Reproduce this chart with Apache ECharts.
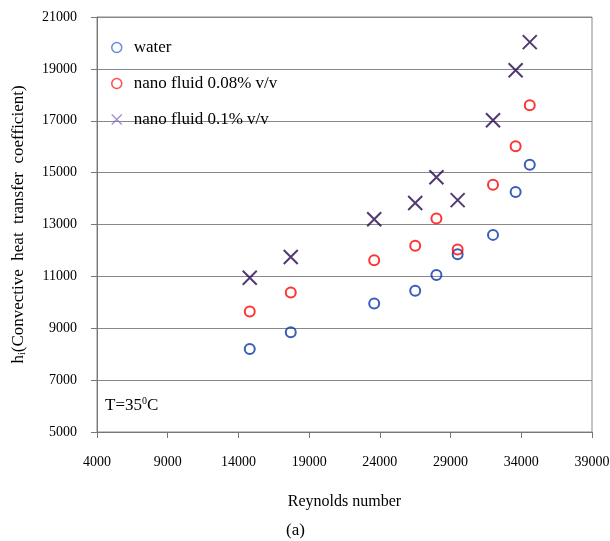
<!DOCTYPE html>
<html>
<head>
<meta charset="utf-8">
<script src="https://cdn.jsdelivr.net/npm/echarts@6/dist/echarts.min.js"></script>
<style>
  html, body { margin: 0; padding: 0; background: #fff; }
  #chart { width: 610px; height: 541px; }
</style>
</head>
<body>
<div id="chart"></div>
<script>
// data
const reynolds = [14800, 17700, 23600, 26500, 28000, 29500, 32000, 33600, 34600];
const water    = [8200, 8850, 9950, 10450, 11050, 11850, 12600, 14250, 15300];
const nano008  = [9650, 10380, 11620, 12180, 13230, 12040, 14530, 16020, 17600];
const nano01   = [10950, 11750, 13200, 13830, 14820, 13940, 17020, 18950, 20030];

const seriesNames = ["water", "nano fluid 0.08% v/v", "nano fluid 0.1% v/v"];

const FONT = "Liberation Serif";
const CROSS = "path://M0,0L10,10M10,0L0,10";

const pairs = (ys) => reynolds.map((x, i) => [x, ys[i]]);
const plain = (v) => String(v); // no thousands separator

const chart = echarts.init(document.getElementById("chart"), null, { renderer: "canvas" });

chart.setOption({
  animation: false,
  textStyle: { fontFamily: FONT, color: "#000" },
  grid: {
    left: 97, right: 18, top: 17, bottom: 109,
    outerBoundsMode: "none",
    containLabel: false,
    show: true, borderColor: "#888", borderWidth: 1,
  },
  legend: {
    orient: "vertical",
    left: 106, top: 34,
    itemWidth: 24, itemHeight: 10,
    itemGap: 19,
    textStyle: { fontFamily: FONT, fontSize: 17, color: "#000" },
    data: [
      { name: seriesNames[0], itemStyle: { color: "transparent", borderColor: "#3f6fd6", borderWidth: 1.5 } },
      { name: seriesNames[1], itemStyle: { color: "transparent", borderColor: "#ff2020", borderWidth: 1.5 } },
      { name: seriesNames[2], itemStyle: { color: "transparent", borderColor: "#8a6cc8", borderWidth: 1.2 } },
    ],
  },
  xAxis: {
    type: "value",
    min: 4000, max: 39000, interval: 5000,
    name: "Reynolds number",
    nameLocation: "middle",
    nameGap: 62,
    nameTextStyle: { fontFamily: FONT, fontSize: 16, color: "#000" },
    axisLine: { show: true, lineStyle: { color: "#777", width: 1 } },
    axisTick: { show: true, inside: false, length: 6, lineStyle: { color: "#777" } },
    axisLabel: { fontFamily: FONT, fontSize: 14, color: "#000", margin: 23, formatter: plain },
    splitLine: { show: false },
  },
  yAxis: {
    type: "value",
    min: 5000, max: 21000, interval: 2000,
    name: "{t|h}{s|i}{t|(Convective  heat  transfer  coefficient)}",
    nameLocation: "middle",
    nameRotate: 90,
    nameGap: 70,
    nameTextStyle: {
      rich: {
        t: { fontFamily: FONT, fontSize: 17, color: "#000" },
        s: { fontFamily: FONT, fontSize: 10, color: "#000", padding: [0, 0, -8, 0] },
      },
    },
    axisLine: { show: true, lineStyle: { color: "#777", width: 1 } },
    axisTick: { show: true, inside: false, length: 6, lineStyle: { color: "#777" } },
    axisLabel: { fontFamily: FONT, fontSize: 14, color: "#000", margin: 20, formatter: plain },
    splitLine: { show: true, lineStyle: { color: "#888", width: 1 } },
  },
  graphic: [
    {
      type: "text", left: 105, top: 396,
      style: {
        text: "{t|T=35}{p|0}{t|C}",
        rich: {
          t: { fontFamily: FONT, fontSize: 17, fill: "#000" },
          p: { fontFamily: FONT, fontSize: 10, fill: "#000", padding: [0, 0, 10, 0] },
        },
      },
    },
    {
      type: "text", left: 286, top: 522,
      style: { text: "(a)", fontFamily: FONT, fontSize: 17, fill: "#000" },
    },
  ],
  series: [
    {
      name: seriesNames[0], type: "scatter", symbol: "circle", symbolSize: 10,
      itemStyle: { color: "transparent", borderColor: "#0636a8", borderWidth: 2 },
      data: pairs(water),
    },
    {
      name: seriesNames[1], type: "scatter", symbol: "circle", symbolSize: 10,
      itemStyle: { color: "transparent", borderColor: "#ff0000", borderWidth: 2 },
      data: pairs(nano008),
    },
    {
      name: seriesNames[2], type: "scatter", symbol: CROSS, symbolSize: 14,
      itemStyle: { color: "transparent", borderColor: "#26084f", borderWidth: 2 },
      data: pairs(nano01),
    },
  ],
});
</script>
</body>
</html>
